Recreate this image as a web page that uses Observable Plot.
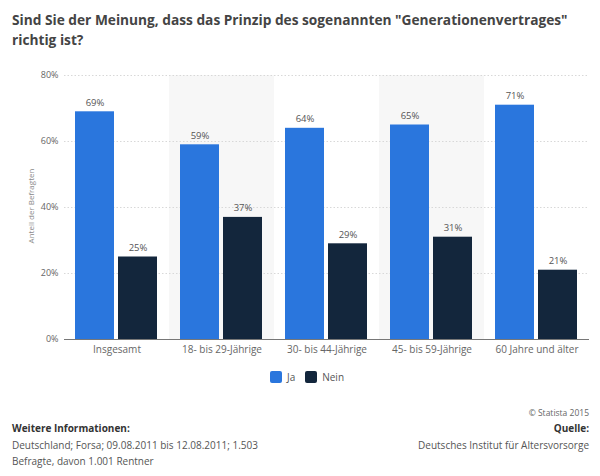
<!DOCTYPE html>
<html><head><meta charset="utf-8">
<script src="https://cdn.jsdelivr.net/npm/d3@7"></script>
<script src="https://cdn.jsdelivr.net/npm/@observablehq/plot@0.6"></script>
<style>
body{margin:0;background:#fff;font-family:"Open Sans",sans-serif;width:600px;height:476px;position:relative;overflow:hidden}
#title{position:absolute;left:12px;top:10px;font-weight:bold;font-size:14.5px;line-height:19.5px;color:#444;white-space:nowrap;transform:scaleX(0.945);transform-origin:0 0}
#chart{position:absolute;left:0;top:60px}
#ylab{position:absolute;left:30px;top:206px;transform:translate(-50%,-50%) rotate(-90deg);font-size:8px;color:#888;white-space:nowrap}
#legend{position:absolute;top:370px;left:7px;width:600px;text-align:center;font-size:10px;color:#555}
#legend span.sw{display:inline-block;width:12px;height:12px;border-radius:2px;vertical-align:-2px;margin-right:5px}
#legend span.it{margin:0 5px}
.f{position:absolute;font-size:10px;line-height:14px;color:#555;white-space:nowrap}
.b{font-weight:bold;color:#333}
</style></head>
<body>
<div id="title">Sind Sie der Meinung, dass das Prinzip des sogenannten "Generationenvertrages"<br>richtig ist?</div>
<div id="chart"></div>
<div id="ylab">Anteil der Befragten</div>
<div id="legend"></div>
<div class="f" style="right:11px;top:406px;font-size:8.5px;color:#666">© Statista 2015</div>
<div class="f b" style="left:12px;top:421px">Weitere Informationen:</div>
<div class="f b" style="right:11px;top:421px">Quelle:</div>
<div class="f" style="left:12px;top:437.5px">Deutschland; Forsa; 09.08.2011 bis 12.08.2011; 1.503</div>
<div class="f" style="left:12px;top:454px">Befragte, davon 1.001 Rentner</div>
<div class="f" style="right:11px;top:437.5px">Deutsches Institut für Altersvorsorge</div>
<script>
const groups = ["Insgesamt","18- bis 29-Jährige","30- bis 44-Jährige","45- bis 59-Jährige","60 Jahre und älter"];
const series = ["Ja","Nein"];
const ja = [69,59,64,65,71];
const nein = [25,37,29,31,21];
const colors = ["#2a76dd","#13263c"];
const yTicks = [0,20,40,60,80];
const shaded = ["18- bis 29-Jährige","45- bis 59-Jährige"];

const data = [];
groups.forEach((g,i)=>{
  data.push({group:g, series:"Ja", value:ja[i]});
  data.push({group:g, series:"Nein", value:nein[i]});
});

const chart = Plot.plot({
  width:600, height:300,
  marginTop:15, marginBottom:21, marginLeft:62, marginRight:10,
  style:{fontFamily:"Open Sans, sans-serif", fontSize:"9px", color:"#666", background:"#fff"},
  fx:{domain:groups, padding:0, label:null, axis:"bottom", tickSize:0, tickPadding:6, fontSize:10},
  x:{domain:series, paddingInner:0.091, paddingOuter:0.245, axis:null},
  y:{domain:[0,80], ticks:yTicks, tickFormat:d=>d+"%", label:null, tickSize:0, tickPadding:6},
  color:{domain:series, range:colors},
  marks:[
    Plot.barY(shaded.map(g=>({group:g})), {fx:"group", y1:0, y2:80, fill:"#f7f7f7"}),
    Plot.ruleY(yTicks.filter(d=>d>0), {stroke:"#d8d8d8", strokeDasharray:"1.5,2"}),
    Plot.barY(data, {fx:"group", x:"series", y:"value", fill:"series"}),
    Plot.text(data, {fx:"group", x:"series", y:"value", text:d=>d.value+"%", dy:-9, fill:"#555", fontSize:9.5}),
    Plot.ruleY([0], {stroke:"#777", strokeWidth:1})
  ]
});
document.getElementById("chart").appendChild(chart);
chart.querySelectorAll('g[aria-label="fx-axis tick label"] text').forEach(t=>t.setAttribute("font-size","10"));

const leg = document.getElementById("legend");
series.forEach((s,i)=>{
  const it = document.createElement("span"); it.className="it";
  const sw = document.createElement("span"); sw.className="sw"; sw.style.background=colors[i];
  it.appendChild(sw); it.appendChild(document.createTextNode(s));
  leg.appendChild(it);
});
</script>
</body></html>
